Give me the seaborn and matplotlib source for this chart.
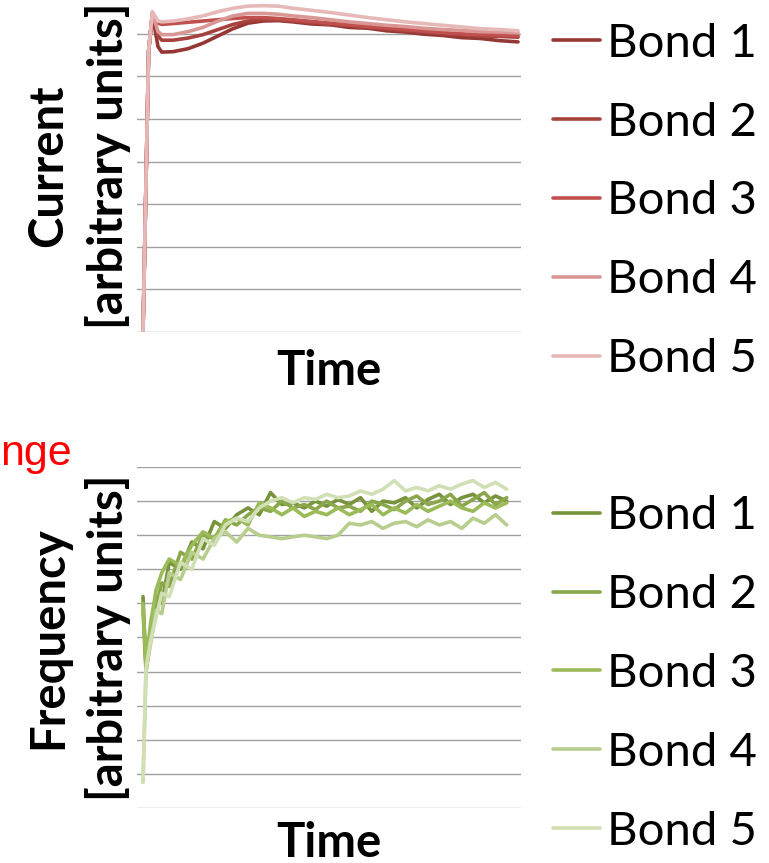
import pandas as pd
import numpy as np
import matplotlib
matplotlib.use("Agg")
import matplotlib.pyplot as plt
import seaborn as sns

# top panel: current vs time
t_top = [0, 1.5, 2.5, 4, 5, 8, 12, 16, 20, 24, 28, 32, 36, 40, 45, 50, 55, 60, 65, 70, 75, 80, 85, 90, 95, 100]
cur_b1 = [0, 6.6, 7.45, 6.7, 6.57, 6.58, 6.65, 6.78, 6.95, 7.12, 7.25, 7.3, 7.31, 7.28, 7.23, 7.21, 7.15, 7.13, 7.07, 7.04, 6.99, 6.96, 6.91, 6.89, 6.84, 6.81]
cur_b2 = [0, 6.6, 7.45, 6.95, 6.85, 6.85, 6.9, 6.98, 7.1, 7.22, 7.3, 7.33, 7.33, 7.3, 7.26, 7.22, 7.19, 7.15, 7.11, 7.07, 7.04, 7.0, 6.98, 6.95, 6.94, 6.92]
cur_b3 = [0, 6.6, 7.48, 7.25, 7.22, 7.24, 7.27, 7.3, 7.33, 7.36, 7.38, 7.38, 7.36, 7.33, 7.29, 7.25, 7.21, 7.17, 7.14, 7.1, 7.06, 7.03, 7.0, 6.98, 6.97, 6.95]
cur_b4 = [0, 6.6, 7.5, 7.05, 6.98, 6.98, 7.05, 7.15, 7.3, 7.42, 7.48, 7.48, 7.46, 7.42, 7.38, 7.33, 7.28, 7.24, 7.2, 7.17, 7.13, 7.1, 7.08, 7.05, 7.04, 7.02]
cur_b5 = [0, 6.6, 7.52, 7.3, 7.28, 7.3, 7.35, 7.42, 7.52, 7.6, 7.65, 7.66, 7.65, 7.6, 7.55, 7.5, 7.44, 7.38, 7.33, 7.28, 7.24, 7.2, 7.16, 7.12, 7.1, 7.07]

# bottom panel: frequency vs time
t_bot = [0, 0.8, 2, 3.5, 5, 7, 10, 13, 16, 19, 22, 25, 28, 31, 34, 37, 40, 43, 46, 49, 52, 55, 58, 61, 64, 67, 70, 73, 76, 79, 82, 85, 88, 91, 94, 97]
frq_b1 = [6.2, 4.1, 5.2, 6.2, 6.0, 7.2, 7.0, 7.8, 7.6, 8.4, 8.2, 8.6, 8.8, 8.6, 9.25, 8.9, 8.95, 8.8, 9.0, 8.85, 9.05, 8.9, 9.1, 8.7, 9.0, 8.95, 9.1, 8.8, 9.05, 9.2, 8.9, 9.1, 9.2, 8.95, 9.15, 9.0]
frq_b2 = [5.8, 4.0, 5.0, 5.9, 6.6, 6.5, 7.5, 7.3, 8.0, 7.9, 8.45, 8.3, 8.6, 8.8, 8.7, 9.0, 8.8, 8.9, 8.75, 9.0, 8.8, 8.85, 8.7, 9.0, 8.9, 8.75, 9.0, 9.15, 8.9, 9.0, 9.2, 8.85, 9.05, 9.25, 8.9, 9.1]
frq_b3 = [6.0, 4.2, 5.4, 6.4, 6.9, 7.3, 7.1, 7.7, 8.1, 7.9, 8.4, 8.5, 8.3, 8.95, 8.8, 8.6, 8.8, 8.55, 8.7, 8.6, 8.8, 8.6, 8.75, 8.9, 8.6, 8.8, 8.65, 8.9, 8.7, 8.85, 9.0, 8.8, 8.7, 8.95, 8.8, 8.95]
frq_b4 = [0.76, 4.0, 4.8, 5.8, 5.7, 6.9, 6.7, 7.5, 7.3, 7.9, 8.1, 7.8, 8.2, 8.0, 7.95, 7.9, 7.95, 8.0, 7.95, 7.9, 8.0, 8.35, 8.3, 8.4, 8.2, 8.35, 8.4, 8.25, 8.45, 8.3, 8.4, 8.2, 8.5, 8.35, 8.6, 8.3]
frq_b5 = [0.76, 4.1, 4.9, 5.6, 6.3, 6.2, 7.2, 7.0, 7.9, 7.7, 8.3, 8.5, 8.4, 8.8, 9.0, 9.1, 8.95, 9.1, 9.05, 9.2, 9.1, 9.15, 9.3, 9.2, 9.35, 9.6, 9.3, 9.4, 9.3, 9.45, 9.35, 9.5, 9.6, 9.4, 9.55, 9.35]

bonds = ["Bond 1", "Bond 2", "Bond 3", "Bond 4", "Bond 5"]
reds = ["#953735", "#A8423F", "#C0504D", "#D99694", "#E6B9B8"]
greens = ["#77933C", "#8AA84B", "#9BBB59", "#B7CE8E", "#D0E0B4"]


def long_df(t, series):
    rows = []
    for name, vals in zip(bonds, series):
        for x, v in zip(t, vals):
            rows.append((x, v, name))
    return pd.DataFrame(rows, columns=["t", "v", "bond"])


df_cur = long_df(t_top, [cur_b1, cur_b2, cur_b3, cur_b4, cur_b5])
df_frq = long_df(t_bot, [frq_b1, frq_b2, frq_b3, frq_b4, frq_b5])

sns.set_style("white")
plt.rcParams["font.family"] = ["Lato", "DejaVu Sans"]
plt.rcParams["text.color"] = "black"
plt.rcParams["axes.labelcolor"] = "black"

W, H = 769, 863
fig = plt.figure(figsize=(W / 100, H / 100), dpi=100)

ax1 = fig.add_axes([137 / W, 1 - 332 / H, 384 / W, 332 / H])
ax2 = fig.add_axes([137 / W, 1 - 808 / H, 384 / W, 341 / H])

sns.lineplot(data=df_cur, x="t", y="v", hue="bond", palette=reds, linewidth=2.6, ax=ax1)
sns.lineplot(data=df_frq, x="t", y="v", hue="bond", palette=greens, linewidth=2.6, ax=ax2)

for ax, ylab, ytop, leg_y, xpad in [(ax1, "Current\n[arbitrary units]", 332 / 42.6, 1 - 201.5 / H, 12),
                                    (ax2, "Frequency\n[arbitrary units]", 10, 1 - 674 / H, 9)]:
    ax.set_xlim(-1.6, 100.8)
    ax.set_ylim(0, ytop)
    ax.set_yticks(np.arange(0, int(ytop) + 1))
    ax.set_xticks([])
    ax.grid(axis="y", color="#A0A0A0", linewidth=1.0)
    for s in ax.spines.values():
        s.set_visible(False)
    ax.tick_params(axis="y", length=3, color="#A0A0A0", labelleft=False)
    ax.set_xlabel("Time", fontsize=34, fontweight="bold", labelpad=xpad)
    ax.set_ylabel(ylab, fontsize=34, fontweight="bold", labelpad=4, linespacing=1.4)
    ax.legend(loc="center left", bbox_to_anchor=(553 / W, leg_y), bbox_transform=fig.transFigure,
              frameon=False, fontsize=34, handlelength=1.0, handletextpad=0.15,
              labelspacing=0.78, borderpad=0, borderaxespad=0, title=None, labelcolor="black")

fig.text(0, 1 - 465 / H, "nge", color="red", fontsize=31, family=["Liberation Sans", "DejaVu Sans"],
         ha="left", va="baseline")

fig.savefig("out.png", dpi=100)
